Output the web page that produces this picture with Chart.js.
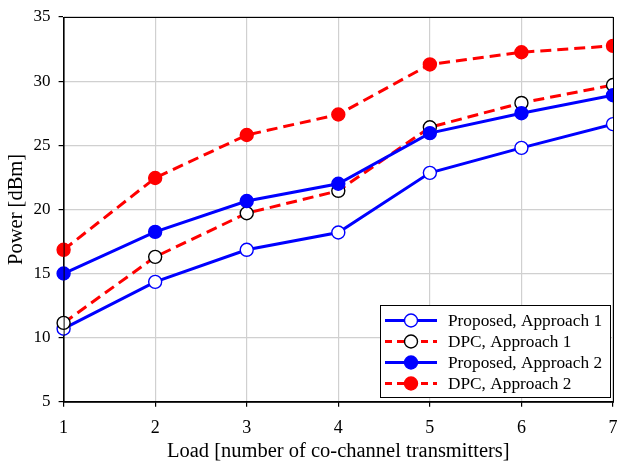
<!DOCTYPE html>
<html>
<head>
<meta charset="utf-8">
<script src="https://cdn.jsdelivr.net/npm/chart.js@4.4.0/dist/chart.umd.min.js"></script>
<style>
    html, body { margin: 0; padding: 0; background: #fff; }
    #wrap { width: 618px; height: 464px; }
</style>
</head>
<body>
<div id="wrap"><canvas id="chart1" width="618" height="464"></canvas></div>
<script>
// data
var loads = [1, 2, 3, 4, 5, 6, 7];
var proposedA1 = [10.7, 14.35, 16.85, 18.2, 22.85, 24.8, 26.65];
var dpcA1 = [11.15, 16.3, 19.7, 21.45, 26.4, 28.3, 29.7];
var proposedA2 = [15.0, 18.25, 20.65, 22.0, 25.95, 27.5, 28.9];
var dpcA2 = [16.85, 22.45, 25.8, 27.4, 31.3, 32.25, 32.75];
var seriesNames = ["Proposed, Approach 1", "DPC, Approach 1", "Proposed, Approach 2", "DPC, Approach 2"];
var yTicks = [5, 10, 15, 20, 25, 30, 35];

var FONT = "'Liberation Serif', 'Times New Roman', serif";

function pts(vals) {
    return vals.map(function (v, i) { return { x: loads[i], y: v }; });
}

function makeSet(i, vals, line, fill, edge, dashed, order) {
    return {
        label: seriesNames[i],
        data: pts(vals),
        borderColor: line,
        borderWidth: 3,
        borderDash: dashed ? [11, 6] : [],
        pointRadius: 6.5,
        pointBackgroundColor: fill,
        pointBorderColor: edge,
        pointBorderWidth: 1.4,
        fill: false,
        tension: 0,
        order: order,
        clip: { left: 10, top: 10, right: 0, bottom: 10 }
    };
}

var datasets = [
    makeSet(0, proposedA1, "#0000ff", "#ffffff", "#0000ff", false, 3),
    makeSet(1, dpcA1, "#ff0000", "#ffffff", "#000000", true, 2),
    makeSet(2, proposedA2, "#0000ff", "#0000ff", "#0000ff", false, 1),
    makeSet(3, dpcA2, "#ff0000", "#ff0000", "#ff0000", true, 0)
];

// frame + legend box inside the plot
var framePlugin = {
    id: "frameLegend",
    afterDraw: function (chart) {
        var ctx = chart.ctx, a = chart.chartArea;
        ctx.save();
        ctx.strokeStyle = "#000";
        ctx.lineWidth = 1;
        ctx.strokeRect(a.left + 0.5, a.top + 0.5, a.right - a.left, a.bottom - a.top);

        var bx = 380, by = 305, bw = 230, bh = 92;
        ctx.fillStyle = "#fff";
        ctx.fillRect(bx, by, bw, bh);
        ctx.strokeRect(bx + 0.5, by + 0.5, bw, bh);
        ctx.font = "17.3px " + FONT;
        ctx.textBaseline = "middle";
        chart.data.datasets.forEach(function (ds, i) {
            var y = by + 15.5 + i * 21;
            ctx.beginPath();
            ctx.setLineDash(ds.borderDash.length ? [7, 5] : []);
            ctx.strokeStyle = ds.borderColor;
            ctx.lineWidth = 3;
            ctx.moveTo(385, y);
            ctx.lineTo(437, y);
            ctx.stroke();
            ctx.setLineDash([]);
            ctx.beginPath();
            ctx.arc(411, y, 6.5, 0, Math.PI * 2);
            ctx.fillStyle = ds.pointBackgroundColor;
            ctx.fill();
            ctx.lineWidth = 1.4;
            ctx.strokeStyle = ds.pointBorderColor;
            ctx.stroke();
            ctx.fillStyle = "#000";
            ctx.fillText(ds.label, 448, y + 1);
        });
        ctx.restore();
    }
};

new Chart("chart1", {
    type: "line",
    data: { datasets: datasets },
    plugins: [framePlugin],
    options: {
        responsive: false,
        animation: false,
        layout: { autoPadding: false, padding: { top: 17, right: 5, left: 4, bottom: 0 } },
        plugins: {
            legend: { display: false },
            tooltip: { enabled: false }
        },
        scales: {
            x: {
                type: "linear",
                min: 1,
                max: 7,
                afterFit: function (axis) { axis.paddingRight = 0; },
                ticks: {
                    stepSize: 1,
                    color: "#000",
                    font: { family: FONT, size: 18 },
                    padding: 11
                },
                grid: { color: "#d0d0d0", lineWidth: 1.2, tickColor: "#000", tickLength: 5 },
                border: { color: "#000", width: 1 },
                title: {
                    display: true,
                    text: "Load [number of co-channel transmitters]",
                    color: "#000",
                    font: { family: FONT, size: 20.5 },
                    padding: { top: -11, bottom: 0 }
                }
            },
            y: {
                min: 5,
                max: 35,
                afterBuildTicks: function (axis) {
                    axis.ticks = yTicks.map(function (v) { return { value: v }; });
                },
                afterFit: function (axis) { axis.paddingTop = 0; },
                ticks: {
                    color: "#000",
                    font: { family: FONT, size: 17 },
                    padding: 8
                },
                grid: { color: "#d0d0d0", lineWidth: 1.2, tickColor: "#000", tickLength: 5 },
                border: { color: "#000", width: 1 },
                title: {
                    display: true,
                    text: "Power [dBm]",
                    color: "#000",
                    font: { family: FONT, size: 20.5 },
                    padding: { top: 0, bottom: -3 }
                }
            }
        }
    }
});
</script>
</body>
</html>
